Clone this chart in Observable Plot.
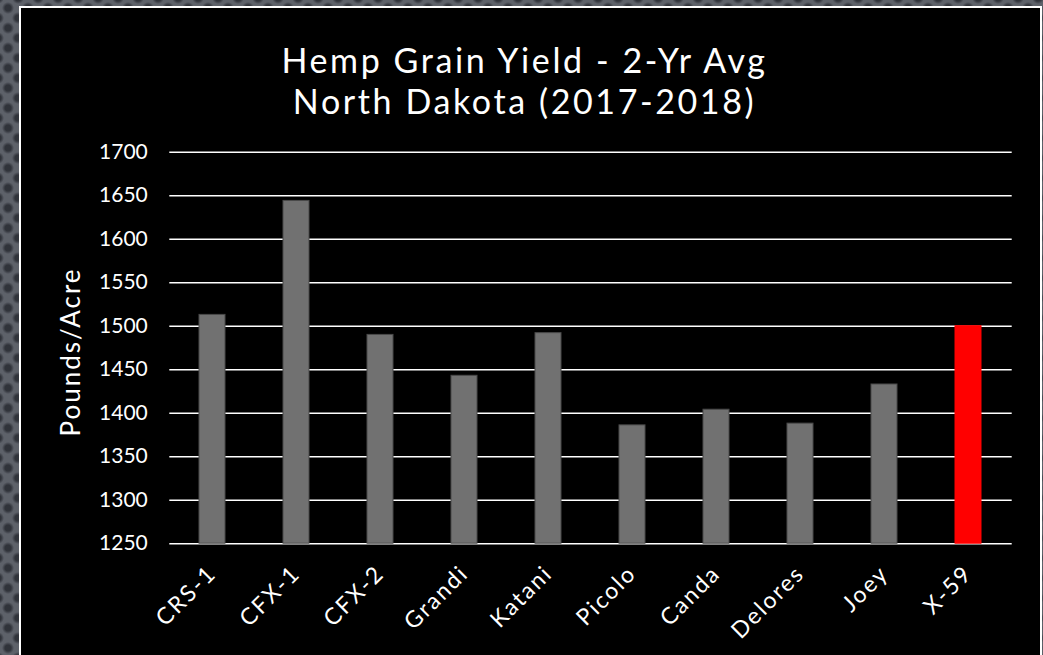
<!DOCTYPE html>
<html>
<head>
<meta charset="utf-8">
<script src="https://cdn.jsdelivr.net/npm/d3@7"></script>
<script src="https://cdn.jsdelivr.net/npm/@observablehq/plot@0.6"></script>
<style>
  html, body { margin: 0; padding: 0; width: 1043px; height: 655px; overflow: hidden; }
  body {
    background-color: #5d6169;
    background-image:
      radial-gradient(circle, #30333a 0, #30333a 3px, rgba(48,51,58,0) 6px),
      radial-gradient(circle, #30333a 0, #30333a 3px, rgba(48,51,58,0) 6px);
    background-size: 20px 20px, 20px 20px;
    background-position: -2px -2px, 8px 8px;
    font-family: Lato, "Open Sans", sans-serif;
  }
  #panel {
    position: absolute; left: 19px; top: 6px;
    width: 1023px; height: 700px; box-sizing: border-box;
    background: #000; border: 2px solid #fff;
  }
  #title {
    height: 117px; box-sizing: border-box; padding-top: 30.6px;
    color: #fff; text-align: center; font-size: 34px; line-height: 41px;
    letter-spacing: 2.6px; margin-right: 12px;
  }
  #chart svg { display: block; }
  [aria-label="x-axis tick label"] text { letter-spacing: 2px; }
  [aria-label="text"] text { letter-spacing: 2px; }
</style>
</head>
<body>
<div id="panel">
  <div id="title">Hemp Grain Yield - 2-Yr Avg<br>North Dakota (2017-2018)</div>
  <div id="chart"></div>
</div>
<script>
const categories = ["CRS-1", "CFX-1", "CFX-2", "Grandi", "Katani", "Picolo", "Canda", "Delores", "Joey", "X-59"];
const values = [1513, 1644, 1490, 1443, 1492, 1386, 1404, 1388, 1433, 1500];
const barColors = ["#717171", "#717171", "#717171", "#717171", "#717171", "#717171", "#717171", "#717171", "#717171", "#ff0000"];
const barStrokes = ["#4a4a4a", "#4a4a4a", "#4a4a4a", "#4a4a4a", "#4a4a4a", "#4a4a4a", "#4a4a4a", "#4a4a4a", "#4a4a4a", "#ff0000"];
const yTicks = [1250, 1300, 1350, 1400, 1450, 1500, 1550, 1600, 1650, 1700];
const yLabel = "Pounds/Acre";
const yMin = 1250, yMax = 1700;

const data = categories.map((name, i) => ({name, value: values[i], fill: barColors[i], stroke: barStrokes[i]}));

const chart = Plot.plot({
  width: 1019,
  height: 530,
  marginLeft: 148.3,
  marginRight: 28.3,
  marginTop: 26.7,
  marginBottom: 111.8,
  style: {background: "transparent", color: "#fff", fontFamily: "Lato, 'Open Sans', sans-serif"},
  x: {domain: categories, paddingInner: 0.687, paddingOuter: 0.3435, label: null},
  y: {domain: [yMin, yMax], label: null},
  marks: [
    Plot.gridY(yTicks, {stroke: "#fff", strokeOpacity: 1, strokeWidth: 1.6}),
    Plot.barY(data, {x: "name", y1: yMin, y2: "value", fill: d => d.fill, stroke: d => d.stroke, strokeWidth: 1}),
    Plot.axisX({tickRotate: -45, tickSize: 0, tickPadding: 26, fontSize: 23, label: null, fill: "#fff"}),
    Plot.axisY(yTicks, {tickSize: 0, tickPadding: 22, fontSize: 21, tickFormat: "d", label: null, fill: "#fff"}),
    Plot.text([yLabel], {frameAnchor: "left", text: d => d, rotate: -90, textAnchor: "middle", lineAnchor: "middle", dx: -98.3, dy: 4, fontSize: 26, fill: "#fff"})
  ]
});
document.getElementById("chart").appendChild(chart);
</script>
</body>
</html>
